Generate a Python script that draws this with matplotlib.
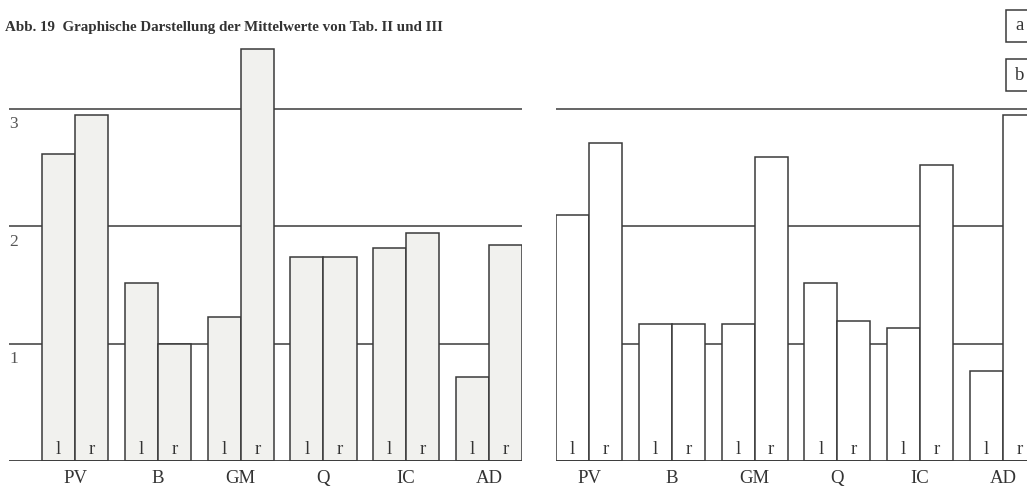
import matplotlib
matplotlib.use("Agg")
import matplotlib.pyplot as plt
from matplotlib.patches import Rectangle

# Mittelwerte
categories = ['PV', 'B', 'GM', 'Q', 'IC', 'AD']
sides = ['l', 'r']
left_l = [2.62, 1.52, 1.23, 1.74, 1.82, 0.72]
left_r = [2.95, 1.00, 3.51, 1.74, 1.94, 1.84]
right_l = [2.10, 1.17, 1.17, 1.52, 1.13, 0.77]
right_r = [2.71, 1.17, 2.59, 1.19, 2.52, 2.95]
grid_levels = [1, 2, 3]
title = 'Abb. 19  Graphische Darstellung der Mittelwerte von Tab. II und III'
legend_keys = ['a', 'b']

W, H = 1027, 493
ink = '#3a3a3a'
txt = '#333333'
serif = ['Liberation Serif', 'DejaVu Serif']

fig = plt.figure(figsize=(W / 100, H / 100), dpi=100)
fig.patch.set_facecolor('white')

unit_x = 33.1     # px per bar width
unit_y = 117.3    # px per value unit
base_px = 461     # baseline, px from top
ytop = 3.8


def make_axes(px_left, px_right, x0):
    ax = fig.add_axes([px_left / W, (H - base_px) / H,
                       (px_right - px_left) / W, ytop * unit_y / H])
    ax.set_xlim(x0, x0 + (px_right - px_left) / unit_x)
    ax.set_ylim(0, ytop)
    ax.axis('off')
    return ax


def draw_panel(ax, vals_l, vals_r, fill, line_from, line_to):
    ax.hlines(grid_levels, line_from, line_to, color=ink, lw=1.1, zorder=1)
    ax.hlines(0, line_from, line_to, color=ink, lw=1.3, zorder=3)
    for i, cat in enumerate(categories):
        x = 2.5 * i
        for j, v in enumerate([vals_l[i], vals_r[i]]):
            ax.bar(x + j, v, width=1, align='edge', facecolor=fill,
                   edgecolor=ink, lw=1.1, zorder=2)
            ax.text(x + j + 0.5, 0.1, sides[j], ha='center', va='center',
                    fontsize=13.5, family=serif, color=txt, zorder=4)
        ax.text(x + 1, -0.145, cat, ha='center', va='center', fontsize=13.5,
                family=serif, color=txt, clip_on=False)


ax1 = make_axes(9, 522, -1)
draw_panel(ax1, left_l, left_r, '#f1f1ee', -1, 14.5)
for lev in grid_levels:
    ax1.text(-1, lev - 0.13, str(lev), ha='left', va='center', fontsize=12.5,
             family=serif, color='#555555')

ax2 = make_axes(556, W, 0)
draw_panel(ax2, right_l, right_r, 'white', 0, 20)

fig.text(5 / W, 1 - 31 / H, title, ha='left', va='baseline', fontsize=10.8,
         fontweight='bold', family=serif, color=txt)

# legend boxes, cut off at the right edge as in the scan
for key, top in zip(legend_keys, [10, 59]):
    fig.add_artist(Rectangle((1006 / W, 1 - (top + 32) / H), 40 / W, 32 / H,
                             transform=fig.transFigure, facecolor='white',
                             edgecolor=ink, lw=1.1))
    fig.text(1020 / W, 1 - (top + 16) / H, key, ha='center', va='center',
             fontsize=13.5, family=serif, color=txt)

fig.savefig('out.png', dpi=100, facecolor='white')
